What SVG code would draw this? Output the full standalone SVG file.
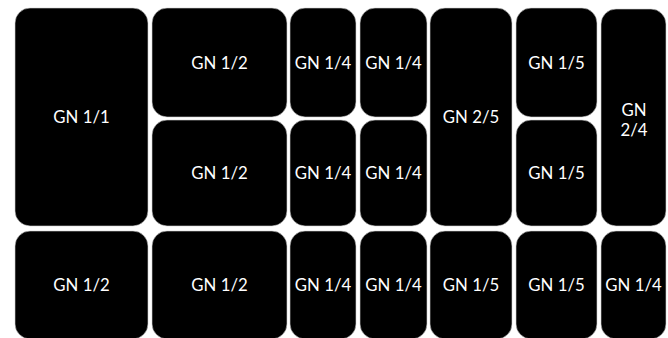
<svg xmlns="http://www.w3.org/2000/svg" width="668" height="338" viewBox="0 0 668 338">
<style>
rect{fill:#000;stroke:#d0d0d0;stroke-width:0.6}
text{fill:#fff;font-family:Lato,"Noto Sans",sans-serif;font-size:16.8px;text-anchor:middle;dominant-baseline:central}
</style>
<rect x="0" y="0" width="668" height="338" fill="#fff" style="fill:#fff;stroke:none"/>
<g id="a1"><rect x="15" y="8" width="133" height="218" rx="15"/><text x="81.5" y="116">GN 1/1</text></g>
<g id="a3"><rect x="15" y="231" width="133" height="108" rx="15"/><text x="81.5" y="284">GN 1/2</text></g>
<g id="b1"><rect x="152" y="8" width="135" height="109" rx="15"/><text x="219.5" y="62">GN 1/2</text></g>
<g id="b2"><rect x="152" y="120" width="135" height="106" rx="15"/><text x="219.5" y="172">GN 1/2</text></g>
<g id="b3"><rect x="152" y="231" width="135" height="108" rx="15"/><text x="219.5" y="284">GN 1/2</text></g>
<g id="c1"><rect x="290" y="8" width="66" height="109" rx="15"/><text x="323" y="62">GN 1/4</text></g>
<g id="c2"><rect x="290" y="120" width="66" height="106" rx="15"/><text x="323" y="172">GN 1/4</text></g>
<g id="c3"><rect x="290" y="231" width="66" height="108" rx="15"/><text x="323" y="284">GN 1/4</text></g>
<g id="d1"><rect x="360" y="8" width="67" height="109" rx="15"/><text x="393.5" y="62">GN 1/4</text></g>
<g id="d2"><rect x="360" y="120" width="67" height="106" rx="15"/><text x="393.5" y="172">GN 1/4</text></g>
<g id="d3"><rect x="360" y="231" width="67" height="108" rx="15"/><text x="393.5" y="284">GN 1/4</text></g>
<g id="e1"><rect x="430" y="8" width="82" height="218" rx="15"/><text x="471" y="116">GN 2/5</text></g>
<g id="e3"><rect x="430" y="231" width="82" height="108" rx="15"/><text x="471" y="284">GN 1/5</text></g>
<g id="f1"><rect x="516" y="8" width="81" height="109" rx="15"/><text x="556.5" y="62">GN 1/5</text></g>
<g id="f2"><rect x="516" y="120" width="81" height="106" rx="15"/><text x="556.5" y="172">GN 1/5</text></g>
<g id="f3"><rect x="516" y="231" width="81" height="108" rx="15"/><text x="556.5" y="284">GN 1/5</text></g>
<g id="g1"><rect x="601" y="9" width="65" height="217" rx="15"/><text x="634" y="109">GN</text><text x="634" y="129">2/4</text></g>
<g id="g3"><rect x="601" y="231" width="65" height="108" rx="15"/><text x="633.5" y="284">GN 1/4</text></g>
<g id="connectors"></g>
</svg>
